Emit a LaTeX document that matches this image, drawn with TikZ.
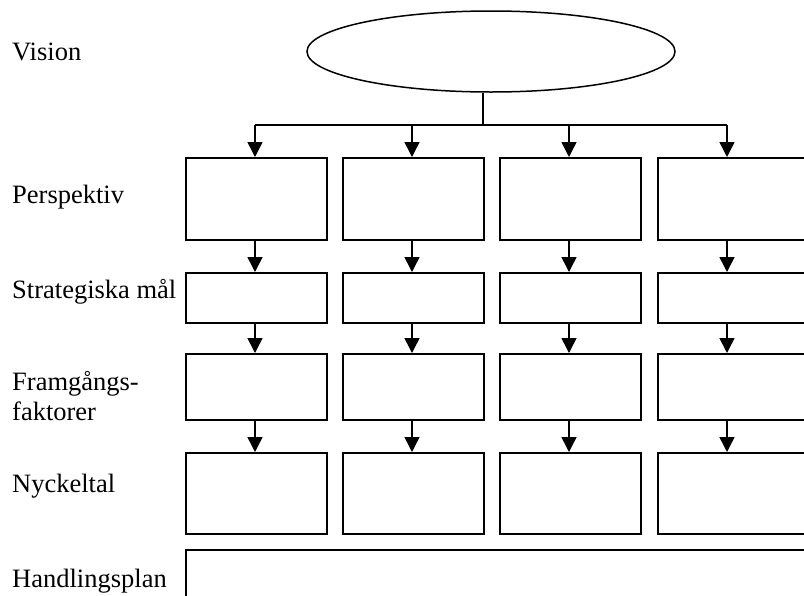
\documentclass[tikz,border=0pt]{standalone}
\usepackage{fontspec}
\setmainfont{Liberation Serif}
\usetikzlibrary{arrows.meta,shapes.geometric}
\begin{document}
\begin{tikzpicture}[x=1pt,y=-1pt,
  box/.style={draw,line width=1.8pt,inner sep=0pt,minimum width=141pt,anchor=north west},
  lbl/.style={anchor=base west,inner sep=0pt,font=\fontsize{26.5}{30}\selectfont},
  conn/.style={line width=1.5pt},
  arr/.style={conn,-{Triangle[width=15pt,length=15pt]}}]
\useasboundingbox (0,0) rectangle (804,595);
\clip (0,0) rectangle (804,595);
\fill[white] (0,0) rectangle (804,595);
% labels
\node[lbl] (lv) at (12,60) {Vision};
\node[lbl] (lp) at (12,203) {Perspektiv};
\node[lbl] (ls) at (12,298) {Strategiska mål};
\node[lbl] (lf1) at (12,390) {Framgångs-};
\node[lbl] (lf2) at (12,420) {faktorer};
\node[lbl] (ln) at (12,492) {Nyckeltal};
\node[lbl] (lh) at (12,587) {Handlingsplan};
% vision ellipse
\node[draw,ellipse,line width=1.5pt,minimum width=368pt,minimum height=81pt,inner sep=0pt] (v) at (491,51.5) {};
% column centers on bus
\coordinate (b) at (483,125);
\foreach \i/\x in {1/255,2/412,3/569,4/727} {\coordinate (c\i) at (\x,125);}
% boxes
\foreach \i/\x/\w in {1/185/141,2/342/141,3/499/141,4/657/180} {
  \node[box,minimum width=\w pt,minimum height=82pt] (p\i) at (\x,157) {};
  \node[box,minimum width=\w pt,minimum height=50pt] (s\i) at (\x,272) {};
  \node[box,minimum width=\w pt,minimum height=66pt] (f\i) at (\x,353) {};
  \node[box,minimum width=\w pt,minimum height=81pt] (n\i) at (\x,452) {};
}
\node[box,minimum width=660pt,minimum height=80pt] (h) at (185,549) {};
% connectors
\draw[conn] (v.south -| b) -- (b);
\draw[conn] (c1) -- (c4);
\foreach \i in {1,2,3,4} {
  \draw[arr] (c\i) -- (p\i.north -| c\i);
  \draw[arr] (p\i.south -| c\i) -- (s\i.north -| c\i);
  \draw[arr] (s\i.south -| c\i) -- (f\i.north -| c\i);
  \draw[arr] (f\i.south -| c\i) -- (n\i.north -| c\i);
}
\end{tikzpicture}
\end{document}
